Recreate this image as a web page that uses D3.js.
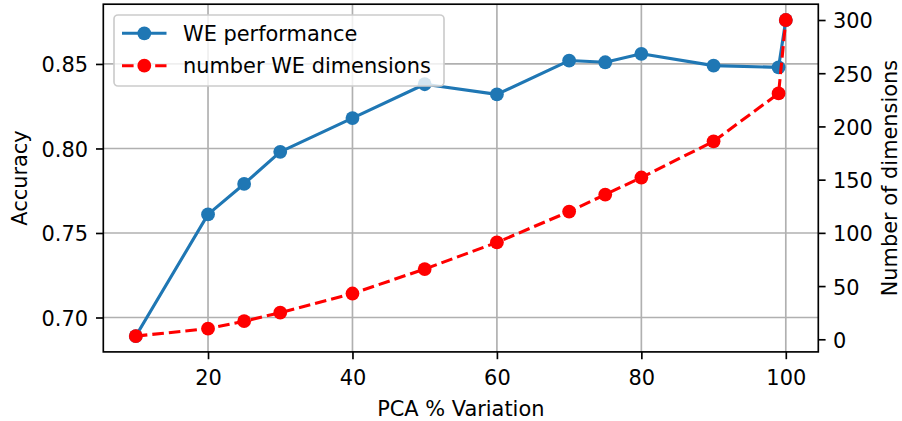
<!DOCTYPE html>
<html>
<head>
<meta charset="utf-8">
<script src="https://cdn.jsdelivr.net/npm/d3@7"></script>
<style>
  html, body { margin: 0; padding: 0; background: #fff; }
  svg text { font-family: "DejaVu Sans", sans-serif; fill: #000; }
</style>
</head>
<body>
<svg id="chart" width="902" height="421"></svg>
<script>
// PCA variation retained vs. word-embedding accuracy and dimensionality
const pcaVariation = [10, 20, 25, 30, 40, 50, 60, 70, 75, 80, 90, 99, 100];
const accuracy     = [0.689, 0.761, 0.779, 0.798, 0.818, 0.838, 0.832, 0.852, 0.851, 0.856, 0.849, 0.848, 0.876];
const dimensions   = [3, 10, 17, 25, 43, 66, 91, 120, 136, 152, 186, 231, 300];

const xTicks   = [20, 40, 60, 80, 100];
const accTicks = [0.70, 0.75, 0.80, 0.85];
const dimTicks = [0, 50, 100, 150, 200, 250, 300];

const seriesNames = ["WE performance", "number WE dimensions"];

const FONT = 20.9;
const MARKER_R = 6.9;
const plot = { left: 103.3, right: 818.3, top: 4.2, bottom: 351.9 };

// pad the data extent by 5% on each side
function padded(values) {
  const [lo, hi] = d3.extent(values);
  const m = (hi - lo) * 0.05;
  return [lo - m, hi + m];
}

const x  = d3.scaleLinear().domain(padded(pcaVariation)).range([plot.left, plot.right]);
const yA = d3.scaleLinear().domain(padded(accuracy)).range([plot.bottom, plot.top]);
const yD = d3.scaleLinear().domain(padded(dimensions)).range([plot.bottom, plot.top]);

const svg = d3.select("#chart");

// grid (from the accuracy axis only)
const grid = svg.append("g").attr("stroke", "#b0b0b0").attr("stroke-width", 1.67);
grid.selectAll("line.gx").data(xTicks).join("line")
  .attr("x1", d => x(d)).attr("x2", d => x(d))
  .attr("y1", plot.top).attr("y2", plot.bottom);
grid.selectAll("line.gy").data(accTicks).join("line")
  .attr("x1", plot.left).attr("x2", plot.right)
  .attr("y1", d => yA(d)).attr("y2", d => yA(d));

// clip to the axes area
svg.append("clipPath").attr("id", "plotclip").append("rect")
  .attr("x", plot.left).attr("y", plot.top)
  .attr("width", plot.right - plot.left).attr("height", plot.bottom - plot.top);

const blue = "#1f77b4", red = "#ff0000";
const accData = pcaVariation.map((v, i) => [v, accuracy[i]]);
const dimData = pcaVariation.map((v, i) => [v, dimensions[i]]);

const marks = svg.append("g").attr("clip-path", "url(#plotclip)");

// accuracy series
marks.append("path").datum(accData)
  .attr("fill", "none").attr("stroke", blue).attr("stroke-width", 3.1)
  .attr("stroke-linejoin", "round").attr("stroke-linecap", "square")
  .attr("d", d3.line().x(d => x(d[0])).y(d => yA(d[1])));
marks.selectAll("circle.acc").data(accData).join("circle")
  .attr("class", "acc")
  .attr("cx", d => x(d[0])).attr("cy", d => yA(d[1])).attr("r", MARKER_R)
  .attr("fill", blue);

// dimension count series
marks.append("path").datum(dimData)
  .attr("fill", "none").attr("stroke", red).attr("stroke-width", 3.1)
  .attr("stroke-dasharray", "11.6 5")
  .attr("d", d3.line().x(d => x(d[0])).y(d => yD(d[1])));
marks.selectAll("circle.dim").data(dimData).join("circle")
  .attr("class", "dim")
  .attr("cx", d => x(d[0])).attr("cy", d => yD(d[1])).attr("r", MARKER_R)
  .attr("fill", red);

// axes
function styleAxis(g) {
  g.select(".domain").remove();
  g.selectAll(".tick line").attr("stroke", "#000").attr("stroke-width", 1.67);
  g.selectAll(".tick text").attr("font-size", FONT).attr("font-family", "DejaVu Sans");
}

svg.append("g").attr("transform", `translate(0,${plot.bottom})`)
  .call(d3.axisBottom(x).tickValues(xTicks).tickFormat(d3.format("d"))
        .tickSize(7.3).tickSizeOuter(0).tickPadding(11.2))
  .call(styleAxis);

svg.append("g").attr("transform", `translate(${plot.left},0)`)
  .call(d3.axisLeft(yA).tickValues(accTicks).tickFormat(d3.format(".2f"))
        .tickSize(7.3).tickSizeOuter(0).tickPadding(8))
  .call(styleAxis)
  .call(g => g.selectAll(".tick text").attr("dy", "0.38em"));

svg.append("g").attr("transform", `translate(${plot.right},0)`)
  .call(d3.axisRight(yD).tickValues(dimTicks).tickFormat(d3.format("d"))
        .tickSize(7.3).tickSizeOuter(0).tickPadding(7.4))
  .call(styleAxis)
  .call(g => g.selectAll(".tick text").attr("dy", "0.38em"));

// spines
svg.append("rect")
  .attr("x", plot.left).attr("y", plot.top)
  .attr("width", plot.right - plot.left).attr("height", plot.bottom - plot.top)
  .attr("fill", "none").attr("stroke", "#000").attr("stroke-width", 1.67);

// axis labels
svg.append("text")
  .attr("x", (plot.left + plot.right) / 2).attr("y", 416)
  .attr("text-anchor", "middle").attr("font-size", FONT)
  .text("PCA % Variation");

const midY = (plot.top + plot.bottom) / 2;
svg.append("text")
  .attr("transform", `translate(27,${midY}) rotate(-90)`)
  .attr("text-anchor", "middle").attr("font-size", FONT)
  .text("Accuracy");

svg.append("text")
  .attr("transform", `translate(897,${midY}) rotate(-90)`)
  .attr("text-anchor", "middle").attr("font-size", FONT)
  .text("Number of dimensions");

// legend
const legend = svg.append("g");
legend.append("rect")
  .attr("x", 114).attr("y", 15).attr("width", 330).attr("height", 71)
  .attr("rx", 4).attr("ry", 4)
  .attr("fill", "#fff").attr("fill-opacity", 0.8)
  .attr("stroke", "#cccccc").attr("stroke-width", 1.67);

const legendRows = [
  { name: seriesNames[0], color: blue, dash: null, y: 33.3 },
  { name: seriesNames[1], color: red, dash: "11.6 5", y: 65.7 }
];
legendRows.forEach(row => {
  legend.append("line")
    .attr("x1", 122).attr("x2", 166.5).attr("y1", row.y).attr("y2", row.y)
    .attr("stroke", row.color).attr("stroke-width", 3.1)
    .attr("stroke-dasharray", row.dash);
  legend.append("circle")
    .attr("cx", 144.3).attr("cy", row.y).attr("r", MARKER_R).attr("fill", row.color);
  legend.append("text")
    .attr("x", 183).attr("y", row.y + 7.4)
    .attr("font-size", FONT)
    .text(row.name);
});
</script>
</body>
</html>
